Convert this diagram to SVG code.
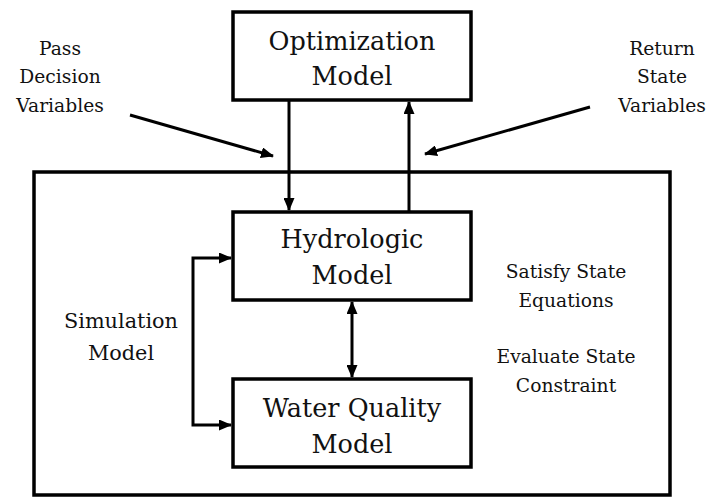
<svg xmlns="http://www.w3.org/2000/svg" width="709" height="497" viewBox="0 0 709 497">
  <style>
    .box { fill: #fff; stroke: #000; stroke-width: 3.5; }
    .frame { fill: none; stroke: #000; stroke-width: 3.5; }
    .link { fill: none; stroke: #000; stroke-width: 3; }
    text { font-family: 'DejaVu Serif', serif; text-anchor: middle; fill: #111; }
    .big { font-size: 25.5px; }
    .mid { font-size: 20.8px; }
    .small { font-size: 18.7px; }
  </style>
  <defs>
    <marker id="head" viewBox="0 0 13 11" refX="12" refY="5.5" markerWidth="13" markerHeight="11" markerUnits="userSpaceOnUse" orient="auto-start-reverse">
      <path d="M0,0 L13,5.5 L0,11 Z" fill="#000"/>
    </marker>
  </defs>
  <rect width="709" height="497" fill="#fff"/>

  <!-- simulation frame -->
  <g id="simulation-frame">
    <rect class="frame" x="34" y="172" width="636" height="323"/>
    <text class="mid" x="121" y="328">Simulation</text>
    <text class="mid" x="121" y="360">Model</text>
  </g>

  <g id="optimization">
    <rect class="box" x="233" y="12" width="238" height="88"/>
    <text class="big" x="352" y="50">Optimization</text>
    <text class="big" x="352" y="85">Model</text>
  </g>

  <g id="hydrologic">
    <rect class="box" x="233" y="212" width="238" height="88"/>
    <text class="big" x="352" y="248">Hydrologic</text>
    <text class="big" x="352" y="284">Model</text>
  </g>

  <g id="water-quality">
    <rect class="box" x="233" y="379" width="238" height="88"/>
    <text class="big" x="352" y="417">Water Quality</text>
    <text class="big" x="352" y="453">Model</text>
  </g>

  <g id="labels">
    <text class="small" x="60" y="55">Pass</text>
    <text class="small" x="60" y="83">Decision</text>
    <text class="small" x="60" y="112">Variables</text>
    <text class="small" x="662" y="55">Return</text>
    <text class="small" x="662" y="83">State</text>
    <text class="small" x="662" y="112">Variables</text>
    <text class="small" x="566" y="278">Satisfy State</text>
    <text class="small" x="566" y="307">Equations</text>
    <text class="small" x="566" y="363">Evaluate State</text>
    <text class="small" x="566" y="392">Constraint</text>
  </g>

  <g id="connectors">
    <!-- optimization to hydrologic -->
    <line class="link" x1="289" y1="100" x2="289" y2="210" marker-end="url(#head)"/>
    <!-- hydrologic back to optimization -->
    <line class="link" x1="409" y1="212" x2="409" y2="102" marker-end="url(#head)"/>
    <!-- hydrologic <-> water quality -->
    <line class="link" x1="352" y1="302" x2="352" y2="377" marker-start="url(#head)" marker-end="url(#head)"/>
    <!-- simulation loop bracket -->
    <polyline class="link" points="231,258 193,258 193,425 231,425" marker-start="url(#head)" marker-end="url(#head)"/>
    <!-- pass decision variables -->
    <line class="link" x1="130" y1="115" x2="273" y2="156" marker-end="url(#head)"/>
    <!-- return state variables -->
    <line class="link" x1="590" y1="107" x2="425" y2="154" marker-end="url(#head)"/>
  </g>
</svg>
